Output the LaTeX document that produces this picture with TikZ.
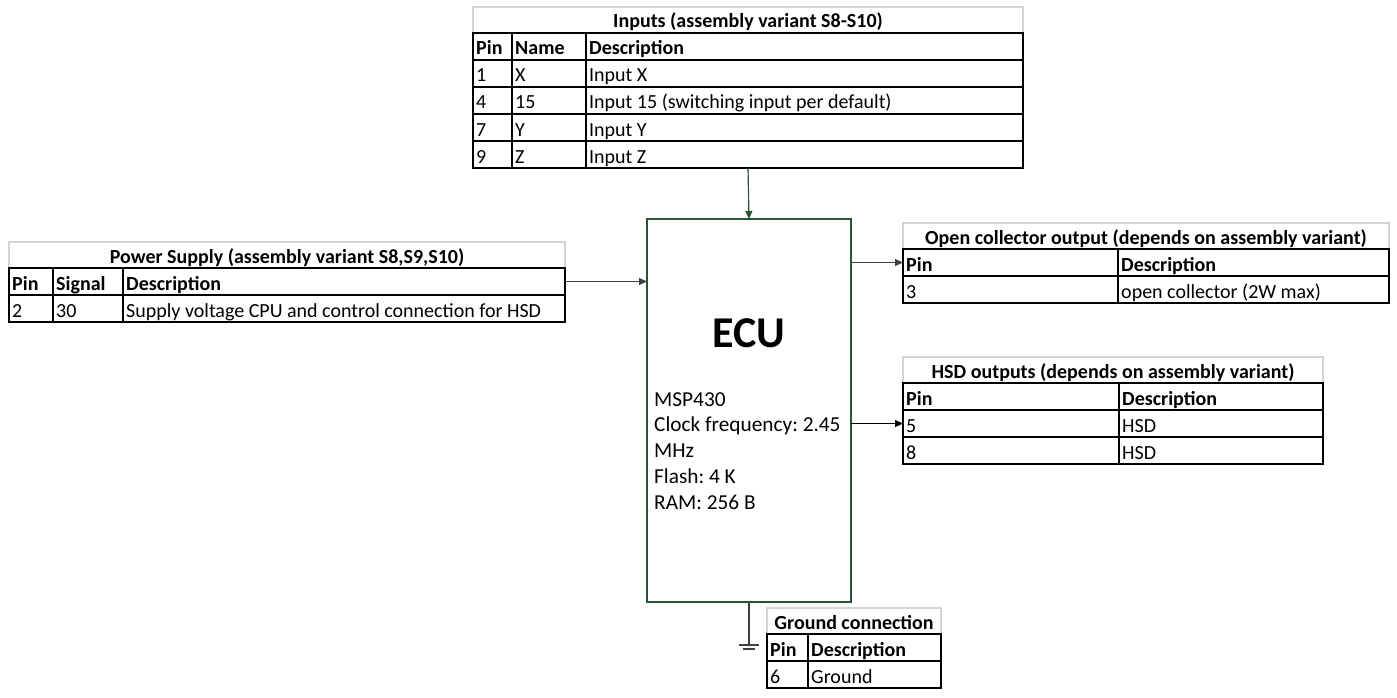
\documentclass[tikz,border=0pt]{standalone}
\usepackage{fontspec}
\setmainfont{Carlito}
\usetikzlibrary{arrows.meta}
\definecolor{ecugreen}{RGB}{38,84,52}
\definecolor{gridgrey}{RGB}{212,212,212}
\definecolor{darkline}{RGB}{64,64,64}
\tikzset{
  tline/.style={line width=2.4pt, draw=black},
  trow/.style={draw=black, line width=2.4pt, inner sep=0pt, outer sep=0pt, anchor=north west, minimum height=27pt},
  ttitle/.style={draw=gridgrey, line width=1.2pt, inner sep=0pt, outer sep=0pt, anchor=north west, minimum height=26pt},
  ct/.style={anchor=base west, inner sep=0pt, font=\fontsize{20}{24}\selectfont},
  ch/.style={anchor=base west, inner sep=0pt, font=\fontsize{20}{24}\selectfont\bfseries},
  tt/.style={anchor=base, inner sep=0pt, font=\fontsize{20}{24}\selectfont\bfseries},
  conn/.style={line width=1.2pt, -{Triangle[length=8pt,width=7pt]}},
  ecubox/.style={draw=ecugreen, line width=1.3pt, inner sep=0pt, outer sep=0pt, anchor=north west, minimum width=204pt, minimum height=383pt},
  et/.style={anchor=base west, inner sep=0pt, font=\fontsize{21.3}{25.8}\selectfont},
}
\frenchspacing
\begin{document}
\begin{tikzpicture}[x=1pt,y=-1pt]
\path[use as bounding box] (0,0) rectangle (1397,698);

% ---------------- Inputs table ----------------
\node[ttitle, minimum width=550pt] (inT) at (473,7) {};
\node[trow, minimum width=550pt] (inH) at (473,33) {};
\node[trow, minimum width=550pt] (in1) at (473,60) {};
\node[trow, minimum width=550pt] (in2) at (473,87) {};
\node[trow, minimum width=550pt] (in3) at (473,114) {};
\node[trow, minimum width=550pt] (in4) at (473,141) {};
\draw[tline] (512,33) -- (512,168);
\draw[tline] (586,33) -- (586,168);
\node[tt] (inTt) at (748,28) {Inputs (assembly variant S8-S10)};
\node[ch] (inHa) at (476,55) {Pin};
\node[ch] (inHb) at (515,55) {Name};
\node[ch] (inHc) at (589,55) {Description};
\node[ct] (in1a) at (476,82) {1};
\node[ct] (in1b) at (515,82) {X};
\node[ct] (in1c) at (589,82) {Input X};
\node[ct] (in2a) at (476,109) {4};
\node[ct] (in2b) at (515,109) {15};
\node[ct] (in2c) at (589,109) {Input 15 (switching input per default)};
\node[ct] (in3a) at (476,136) {7};
\node[ct] (in3b) at (515,136) {Y};
\node[ct] (in3c) at (589,136) {Input Y};
\node[ct] (in4a) at (476,163) {9};
\node[ct] (in4b) at (515,163) {Z};
\node[ct] (in4c) at (589,163) {Input Z};

% ---------------- Power supply table ----------------
\node[ttitle, minimum width=556pt] (pwT) at (9,242) {};
\node[trow, minimum width=556pt] (pwH) at (9,268) {};
\node[trow, minimum width=556pt] (pw1) at (9,295) {};
\draw[tline] (53,268) -- (53,322);
\draw[tline] (123,268) -- (123,322);
\node[tt] (pwTt) at (287,263) {Power Supply (assembly variant S8,S9,S10)};
\node[ch] (pwHa) at (12,290) {Pin};
\node[ch] (pwHb) at (56,290) {Signal};
\node[ch] (pwHc) at (126,290) {Description};
\node[ct] (pw1a) at (12,317) {2};
\node[ct] (pw1b) at (56,317) {30};
\node[ct] (pw1c) at (126,317) {Supply voltage CPU and control connection for HSD};

% ---------------- Open collector table ----------------
\node[ttitle, minimum width=486pt] (ocT) at (903,223) {};
\node[trow, minimum width=486pt] (ocH) at (903,249) {};
\node[trow, minimum width=486pt] (oc1) at (903,276) {};
\draw[tline] (1118,249) -- (1118,303);
\node[tt] (ocTt) at (1146,244) {Open collector output (depends on assembly variant)};
\node[ch] (ocHa) at (906,271) {Pin};
\node[ch] (ocHb) at (1121,271) {Description};
\node[ct] (oc1a) at (906,298) {3};
\node[ct] (oc1b) at (1121,298) {open collector (2W max)};

% ---------------- HSD outputs table ----------------
\node[ttitle, minimum width=420pt] (hsT) at (903,357) {};
\node[trow, minimum width=420pt] (hsH) at (903,383) {};
\node[trow, minimum width=420pt] (hs1) at (903,410) {};
\node[trow, minimum width=420pt] (hs2) at (903,437) {};
\draw[tline] (1119,383) -- (1119,464);
\node[tt] (hsTt) at (1113,378) {HSD outputs (depends on assembly variant)};
\node[ch] (hsHa) at (906,405) {Pin};
\node[ch] (hsHb) at (1122,405) {Description};
\node[ct] (hs1a) at (906,432) {5};
\node[ct] (hs1b) at (1122,432) {HSD};
\node[ct] (hs2a) at (906,459) {8};
\node[ct] (hs2b) at (1122,459) {HSD};

% ---------------- Ground table ----------------
\node[ttitle, minimum width=174pt] (gdT) at (767,608) {};
\node[trow, minimum width=174pt] (gdH) at (767,634) {};
\node[trow, minimum width=174pt] (gd1) at (767,661) {};
\draw[tline] (808,634) -- (808,688);
\node[tt] (gdTt) at (854,629) {Ground connection};
\node[ch] (gdHa) at (770,656) {Pin};
\node[ch] (gdHb) at (811,656) {Description};
\node[ct] (gd1a) at (770,683) {6};
\node[ct] (gd1b) at (811,683) {Ground};

% ---------------- ECU ----------------
\node[ecubox] (ecu) at (647,219) {};
\node[anchor=base, inner sep=0pt, font=\fontsize{44}{50}\selectfont\bfseries] (ecuT) at (749,347) {ECU};
\node[et] (ecuL1) at (654,406) {MSP430};
\node[et] (ecuL2) at (654,431.8) {Clock frequency: 2.45};
\node[et] (ecuL3) at (654,457.6) {MHz};
\node[et] (ecuL4) at (654,483.4) {Flash: 4 K};
\node[et] (ecuL5) at (654,509.2) {RAM: 256 B};

% ---------------- Connectors ----------------
\draw[conn, draw=ecugreen, fill=ecugreen] (in4.south) -- (ecu.north);
\draw[conn, draw=darkline, fill=darkline] (pwH.east) -- (ecu.west |- pwH.east);
\draw[conn, draw=darkline, fill=darkline] (ecu.east |- ocH.west) -- (ocH.west);
\draw[conn, draw=black, fill=black] (ecu.east |- hs1.west) -- (hs1.west);

\coordinate (gnd) at (749,645);
\draw[line width=1.1pt, darkline] (ecu.south) -- (gnd);
\draw[line width=1.1pt, darkline] ([xshift=-10pt]gnd) -- ([xshift=10pt]gnd);
\draw[line width=1.1pt, darkline] ([xshift=-6pt,yshift=-4pt]gnd) -- ([xshift=6pt,yshift=-4pt]gnd);
\end{tikzpicture}
\end{document}
